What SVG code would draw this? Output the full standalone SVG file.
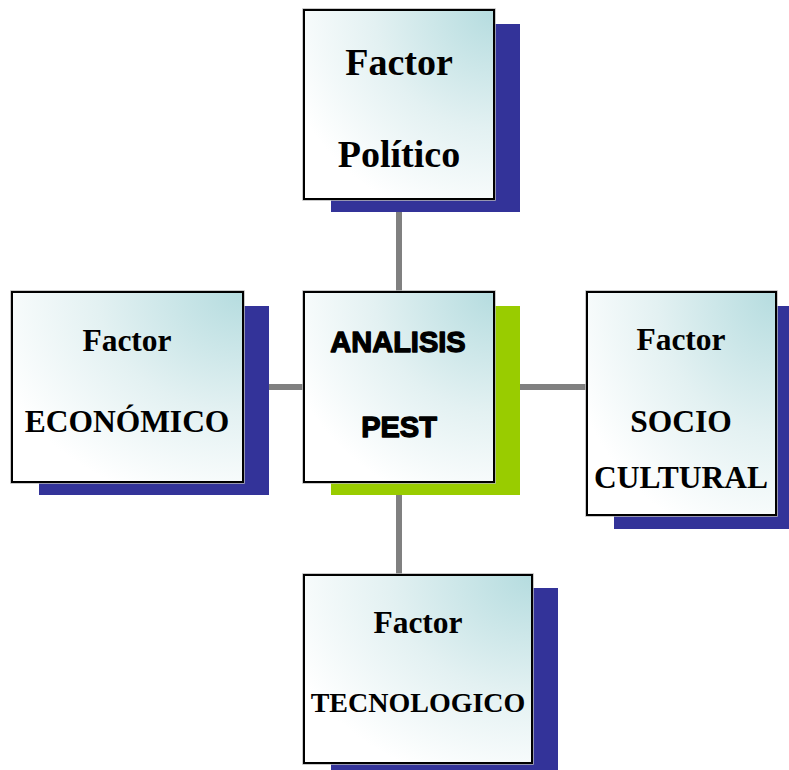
<svg xmlns="http://www.w3.org/2000/svg" width="789" height="770" viewBox="0 0 789 770">
  <defs>
    <radialGradient id="fill" cx="1" cy="0" r="1.15" fx="1" fy="0">
      <stop offset="0" stop-color="#B5DCDF"/>
      <stop offset="0.55" stop-color="#E3F1F2"/>
      <stop offset="1" stop-color="#FFFFFF"/>
    </radialGradient>
  </defs>
  <style>
    .shadow { fill: #333399; }
    .shadow-green { fill: #99CC00; }
    .halo { fill: none; stroke: #B8B8B8; stroke-width: 3.5; }
    .box { fill: url(#fill); stroke: #000000; stroke-width: 2; }
    .conn { stroke: #808080; stroke-width: 6; fill: none; }
    .lbl { font-family: "Liberation Serif", "Times New Roman", serif; font-weight: bold; fill: #000; text-anchor: middle; }
    .title { font-family: "Liberation Sans", Arial, sans-serif; font-weight: bold; fill: #000; stroke: #000; stroke-width: 1.3; stroke-linejoin: round; text-anchor: middle; font-size: 29px; }
  </style>

  <g id="connectors">
    <line class="conn" x1="399" y1="199" x2="399" y2="292"/>
    <line class="conn" x1="399" y1="482" x2="399" y2="575"/>
    <line class="conn" x1="243" y1="387" x2="304" y2="387"/>
    <line class="conn" x1="494" y1="387" x2="587" y2="387"/>
  </g>

  <g id="politico">
    <rect class="shadow" x="331" y="24" width="189" height="188"/>
    <rect class="halo" x="304" y="10" width="190" height="189"/>
    <rect class="box" x="304" y="10" width="190" height="189"/>
    <text class="lbl" x="399" y="75" font-size="38">Factor</text>
    <text class="lbl" x="399" y="167" font-size="38">Político</text>
  </g>

  <g id="pest">
    <rect class="shadow-green" x="331" y="306" width="189" height="189"/>
    <rect class="halo" x="304" y="292" width="190" height="190"/>
    <rect class="box" x="304" y="292" width="190" height="190"/>
    <text class="title" x="398" y="352">ANALISIS</text>
    <text class="title" x="399" y="437">PEST</text>
  </g>

  <g id="economico">
    <rect class="shadow" x="39" y="306" width="230" height="189"/>
    <rect class="halo" x="12" y="292" width="231" height="190"/>
    <rect class="box" x="12" y="292" width="231" height="190"/>
    <text class="lbl" x="127" y="351" font-size="31.5">Factor</text>
    <text class="lbl" x="127" y="432" font-size="31.5">ECONÓMICO</text>
  </g>

  <g id="sociocultural">
    <rect class="shadow" x="614" y="306" width="175" height="223"/>
    <rect class="halo" x="587" y="292" width="189" height="223"/>
    <rect class="box" x="587" y="292" width="189" height="223"/>
    <text class="lbl" x="681" y="350" font-size="31.5">Factor</text>
    <text class="lbl" x="681" y="432" font-size="31.5">SOCIO</text>
    <text class="lbl" x="681" y="488" font-size="31.5">CULTURAL</text>
  </g>

  <g id="tecnologico">
    <rect class="shadow" x="331" y="588" width="227" height="182"/>
    <rect class="halo" x="304" y="575" width="228" height="188"/>
    <rect class="box" x="304" y="575" width="228" height="188"/>
    <text class="lbl" x="418" y="633" font-size="31.5">Factor</text>
    <text class="lbl" x="418" y="712" font-size="28">TECNOLOGICO</text>
  </g>
</svg>
